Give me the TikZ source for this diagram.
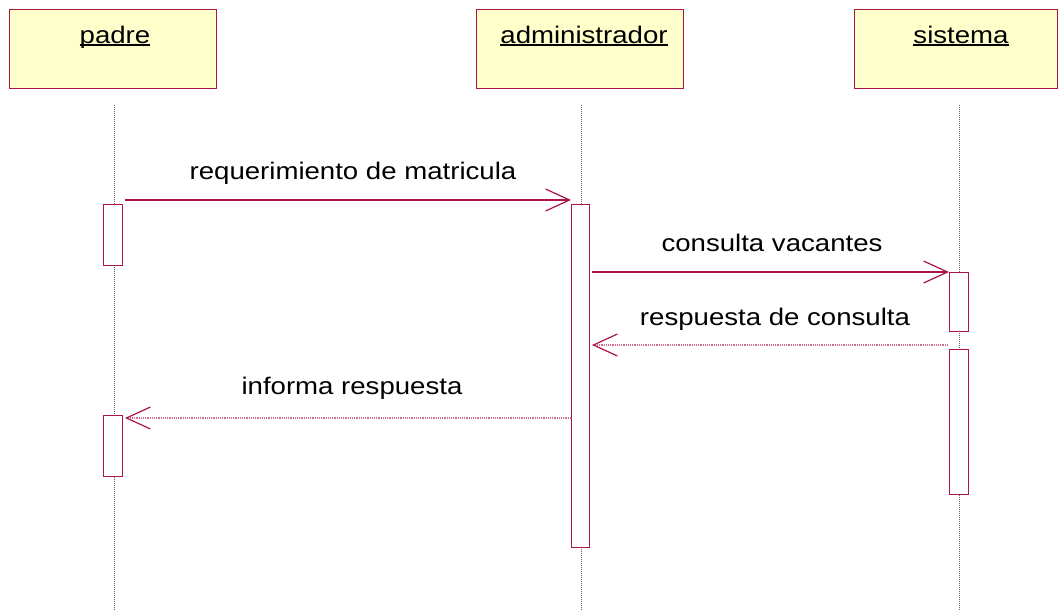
\documentclass[tikz,border=0pt]{standalone}
\usepackage{fontspec}
\setmainfont{Liberation Sans}
\usetikzlibrary{arrows.meta}
\definecolor{seqred}{RGB}{172,20,68}
\definecolor{seqpink}{RGB}{210,110,145}
\definecolor{hdrfill}{RGB}{255,255,204}
\definecolor{lifegray}{RGB}{100,100,100}
\newcommand\wlbl[1]{\scalebox{1.15}[1]{#1}}
\newcommand\thickul[1]{\setbox0\hbox{#1}\rlap{\rule[-2.6pt]{\wd0}{1.5pt}}\box0}
\tikzset{
  hdr/.style={draw=seqred, fill=hdrfill, line width=1.2pt, anchor=north west, inner sep=0pt},
  hdrtxt/.style={anchor=base, inner sep=0pt, font=\fontsize{24}{28}\selectfont},
  life/.style={draw=lifegray, line width=1pt, densely dotted},
  actbox/.style={draw=seqred, fill=white, line width=1.3pt, anchor=north west, inner sep=0pt, minimum width=19pt},
  msgtxt/.style={anchor=base, inner sep=0pt, font=\fontsize{24}{28}\selectfont},
  call/.style={draw=seqred, line width=1.2pt, -{Straight Barb[length=24pt,width=22pt,line width=1.2pt]}},
  reply/.style={draw=seqpink, line width=1.2pt, densely dotted, -{Straight Barb[length=24pt,width=22pt,line width=1.2pt,seqred]}}
}
\begin{document}
\begin{tikzpicture}[x=1pt,y=-1pt]
\useasboundingbox (0,0) rectangle (1060,611);
% header boxes
\node[hdr, minimum width=207pt, minimum height=79pt] (hp) at (9,9) {};
\node[hdr, minimum width=207pt, minimum height=79pt] (ha) at (476,9) {};
\node[hdr, minimum width=203pt, minimum height=79pt] (hs) at (854,9) {};
\node[hdrtxt] (tp) at (115,43) {\wlbl{\thickul{padre}}};
\node[hdrtxt] (ta) at (584,43) {\wlbl{\thickul{administrador}}};
\node[hdrtxt] (ts) at (961,43) {\wlbl{\thickul{sistema}}};
% lifelines
\coordinate (pt) at (114,105); \coordinate (pb) at (114,611);
\coordinate (at) at (581,105); \coordinate (ab) at (581,611);
\coordinate (st) at (959,105); \coordinate (sb) at (959,611);
\draw[life] (pt) -- (pb);
\draw[life] (at) -- (ab);
\draw[life] (st) -- (sb);
% activation boxes
\node[actbox, minimum height=61pt] (p1) at (103,204) {};
\node[actbox, minimum height=61pt] (p2) at (103,415) {};
\node[actbox, minimum height=343pt, minimum width=18pt] (a1) at (571,204) {};
\node[actbox, minimum height=59pt] (s1) at (949,272) {};
\node[actbox, minimum height=145pt] (s2) at (949,349) {};
% messages
\coordinate (m1s) at (125,200);
\coordinate (m1e) at (571,200);
\draw[call] (m1s) -- (m1e);
\node[msgtxt] (l1) at (353,179) {\wlbl{requerimiento de matricula}};
\coordinate (m2s) at (592,272);
\draw[call] (m2s) -- (s1.north west);
\node[msgtxt] (l2) at (772,251) {\wlbl{consulta vacantes}};
\coordinate (m3s) at (948,345);
\coordinate (m3e) at (592,345);
\draw[reply] (m3s) -- (m3e);
\node[msgtxt] (l3) at (775,325) {\wlbl{respuesta de consulta}};
\coordinate (m4s) at (571,418);
\coordinate (m4e) at (125,418);
\draw[reply] (m4s) -- (m4e);
\node[msgtxt] (l4) at (352,394) {\wlbl{informa respuesta}};
\end{tikzpicture}
\end{document}
